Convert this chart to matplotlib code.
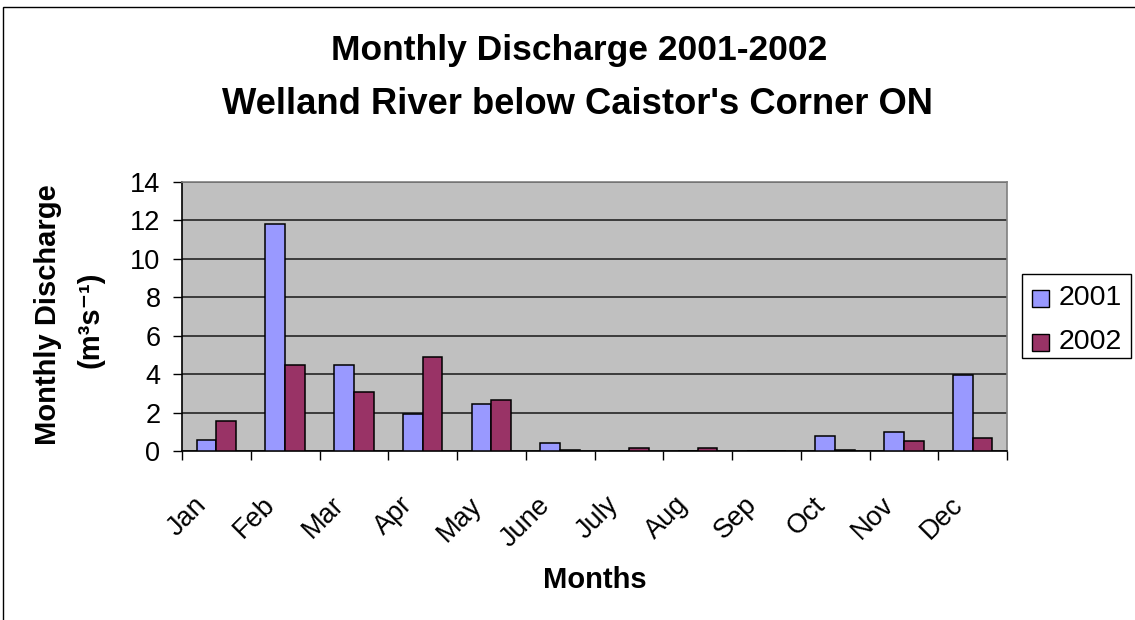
import matplotlib
matplotlib.use("Agg")
import matplotlib.pyplot as plt
import numpy as np
from matplotlib.patches import Rectangle
from matplotlib.transforms import offset_copy, blended_transform_factory

plt.rcParams['font.family'] = ['Liberation Sans', 'DejaVu Sans']

months = ["Jan", "Feb", "Mar", "Apr", "May", "June", "July", "Aug", "Sep", "Oct", "Nov", "Dec"]
q2001 = [0.55, 11.8, 4.5, 1.9, 2.45, 0.42, 0.02, 0.0, 0.0, 0.8, 1.0, 3.95]
q2002 = [1.57, 4.47, 3.05, 4.87, 2.67, 0.05, 0.15, 0.15, 0.0, 0.05, 0.54, 0.7]
series = ["2001", "2002"]
colors = ['#9999FF', '#993366']
yticks = [0, 2, 4, 6, 8, 10, 12, 14]

W, H = 1135, 620
fig = plt.figure(figsize=(W / 100, H / 100), dpi=100)

def fx(px):
    return px / W

def fy(py):
    return 1 - py / H

# outer chart border
fig.patches.append(Rectangle((fx(3), -0.01), 1.2, fy(7) + 0.01, transform=fig.transFigure,
                             fill=False, edgecolor='black', linewidth=1.0))

x0, x1, ytop, ybot = 182, 1007, 182, 451
ax = fig.add_axes([fx(x0), fy(ybot), (x1 - x0) / W, (ybot - ytop) / H])
ax.set_facecolor('#C0C0C0')

x = np.arange(len(months))
bw = 0.286
ax.bar(x - bw / 2, q2001, width=bw, color=colors[0], edgecolor='black', linewidth=1.1, label=series[0], zorder=3)
ax.bar(x + bw / 2, q2002, width=bw, color=colors[1], edgecolor='black', linewidth=1.1, label=series[1], zorder=3)

ax.set_xlim(-0.5, len(months) - 0.5)
ax.set_ylim(0, 14)
ax.set_yticks(yticks)
ax.set_yticklabels([str(v) for v in yticks], fontsize=19.5)
ax.yaxis.grid(True, color='#303030', linewidth=1.3, zorder=0)
ax.set_axisbelow(True)

ax.set_xticks(np.arange(len(months) + 1) - 0.5)
ax.set_xticklabels([])
ax.tick_params(axis='x', which='major', length=6.5, direction='out', width=1)
ax.tick_params(axis='y', length=6.5, direction='out', width=1, pad=9)

# category labels, rotated 45 degrees
trans = blended_transform_factory(ax.transData, ax.transAxes)
ltrans = offset_copy(trans, fig=fig, x=-9, y=-55, units='dots')
for xi, m in zip(x, months):
    ax.text(xi, 0, m, transform=ltrans, rotation=45, ha='right', va='baseline',
            rotation_mode='anchor', fontsize=19.5)

for s in ['top', 'right']:
    ax.spines[s].set_color('#808080')
    ax.spines[s].set_linewidth(1.2)
for s in ['left', 'bottom']:
    ax.spines[s].set_color('black')
    ax.spines[s].set_linewidth(1.2)

fig.text(fx(579), fy(60), "Monthly Discharge 2001-2002", ha='center', va='baseline',
         fontsize=25.5, fontweight='bold')
fig.text(fx(578), fy(114), "Welland River below Caistor's Corner ON", ha='center', va='baseline',
         fontsize=26.2, fontweight='bold')

fig.text(fx(595), fy(588), "Months", ha='center', va='baseline', fontsize=21, fontweight='bold')
fig.text(fx(48), fy(315), "Monthly Discharge", ha='center', va='center', rotation=90,
         fontsize=21, fontweight='bold')
fig.text(fx(90), fy(320), "(m³s⁻¹)", ha='center', va='center', rotation=90,
         fontsize=21, fontweight='bold')

# legend
fig.patches.append(Rectangle((fx(1022), fy(358)), (1131 - 1022) / W, (358 - 274) / H,
                             transform=fig.transFigure, facecolor='white', edgecolor='black',
                             linewidth=1.0, zorder=5))
for i, (lab, c) in enumerate(zip(series, colors)):
    yc = 298 + 44 * i
    fig.patches.append(Rectangle((fx(1032), fy(yc + 8.5)), 17 / W, 17 / H, transform=fig.transFigure,
                                 facecolor=c, edgecolor='black', linewidth=1.0, zorder=6))
    fig.text(fx(1059), fy(yc), lab, ha='left', va='center', fontsize=20.5, zorder=7)

fig.savefig("out.png", dpi=100)
